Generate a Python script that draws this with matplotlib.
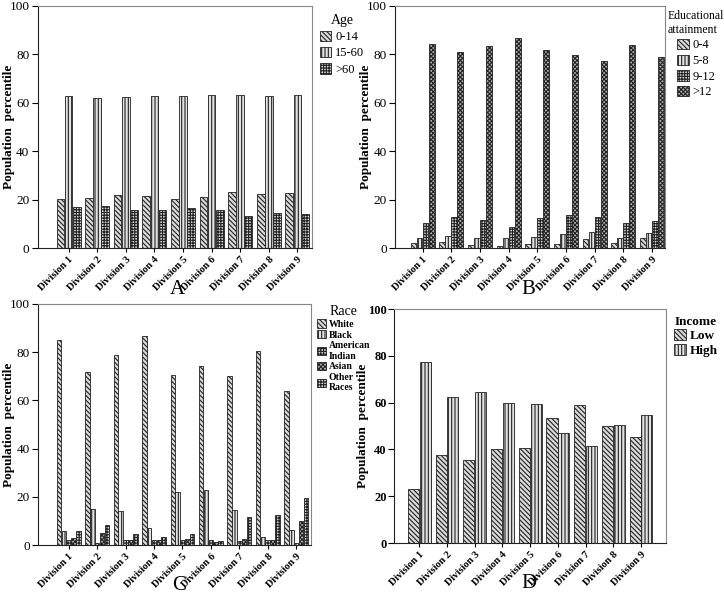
import numpy as np
import matplotlib
matplotlib.use("Agg")
import matplotlib.pyplot as plt

plt.rcParams['font.family'] = ['Liberation Serif', 'DejaVu Serif']
plt.rcParams['hatch.linewidth'] = 0.8
plt.rcParams['hatch.color'] = '#4a4a4a'

divisions = ['Division 1', 'Division 2', 'Division 3', 'Division 4', 'Division 5',
             'Division 6', 'Division 7', 'Division 8', 'Division 9']

# A - age
age_labels = ['0-14', '15-60', '>60']
age_0_14 = [20.1, 20.7, 22.1, 21.4, 20.4, 21.1, 23.3, 22.5, 22.8]
age_15_60 = [62.8, 61.8, 62.5, 62.9, 62.8, 63.2, 63.4, 62.8, 63.3]
age_60 = [17.0, 17.5, 15.9, 15.9, 16.7, 15.9, 13.4, 14.6, 13.9]

# B - educational attainment
edu_labels = ['0-4', '5-8', '9-12', '>12']
edu_0_4 = [1.9, 2.3, 1.4, 1.0, 1.8, 1.5, 3.6, 1.9, 4.3]
edu_5_8 = [4.3, 5.1, 4.3, 4.0, 4.6, 5.7, 6.6, 4.3, 6.1]
edu_9_12 = [10.2, 12.7, 11.6, 8.8, 12.3, 13.8, 13.0, 10.2, 11.2]
edu_12 = [84.1, 80.8, 83.3, 86.6, 81.7, 79.6, 77.2, 83.9, 78.8]

# C - race
race_labels = ['White', 'Black', 'American\nIndian', 'Asian', 'Other\nRaces']
race_white = [84.9, 71.7, 78.7, 86.7, 70.7, 74.2, 70.2, 80.5, 63.7]
race_black = [5.9, 14.9, 14.1, 7.2, 22.0, 22.7, 14.6, 3.2, 6.1]
race_amind = [2.1, 1.0, 2.0, 2.0, 2.0, 2.0, 1.5, 2.0, 1.0]
race_asian = [3.0, 4.8, 2.2, 2.0, 2.4, 1.1, 2.5, 2.0, 9.9]
race_other = [5.9, 8.3, 4.6, 3.5, 4.4, 1.8, 11.7, 12.3, 19.5]

# D - income
inc_labels = ['Low', 'High']
inc_low = [22.9, 37.7, 35.6, 40.1, 40.7, 53.5, 59.0, 49.9, 45.5]
inc_high = [77.4, 62.6, 64.7, 60.0, 59.6, 46.8, 41.3, 50.4, 54.9]

styles = {
    'diag': dict(facecolor='#dadada', hatch='\\' * 7),
    'vert': dict(facecolor='#e2e2e2', hatch='|' * 5),
    'grid': dict(facecolor='#d6d6d6', hatch='+' * 6),
    'check': dict(facecolor='#b0b0b0', hatch='x' * 8),
}


def panel(rect, series, labels, patterns, xlim, letter, letter_xy,
          ylabel_x, leg_anchor, title, title_size=10, title_bold=False, leg_size=9,
          label_bold=False, spacing=0.5, tick_bold=False):
    ax = fig.add_axes(rect)
    x = np.arange(len(divisions))
    n = len(series)
    w = 0.85 / n
    handles = []
    for i, (vals, pat) in enumerate(zip(series, patterns)):
        b = ax.bar(x - 0.425 + w * (i + 0.5), vals, w * 0.94,
                   edgecolor='#222222', linewidth=0.6, **styles[pat])
        handles.append(b)
    ax.set_xlim(*xlim)
    ax.set_ylim(0, 100)
    ax.set_yticks([0, 20, 40, 60, 80, 100])
    ax.tick_params(axis='y', labelsize=9 if tick_bold else 9.5, length=4, width=0.8,
                   pad=1.5 if tick_bold else 2)
    if tick_bold:
        for t in ax.get_yticklabels():
            t.set_fontweight('bold')
    ax.set_xticks(x)
    ax.set_xticklabels(divisions, rotation=45, ha='right', rotation_mode='anchor',
                       fontsize=7.5, fontweight='bold')
    ax.tick_params(axis='x', length=3, width=0.8, pad=2)
    for s in ['top', 'right']:
        ax.spines[s].set_color('#888888')
    for s in ['left', 'bottom']:
        ax.spines[s].set_color('#222222')
    fig.text(ylabel_x, rect[1] + rect[3] / 2, 'Population  percentile', rotation=90,
             ha='center', va='center', fontsize=9.5, fontweight='bold')
    fig.text(letter_xy[0], letter_xy[1], letter, ha='center', va='center', fontsize=15)
    fig.legend(handles, labels, loc='upper left', bbox_to_anchor=leg_anchor,
               frameon=False, handlelength=0.9, handleheight=0.9,
               handletextpad=0.3, labelspacing=spacing, borderpad=0,
               borderaxespad=0, title=title, alignment='center',
               prop=dict(size=leg_size, weight='bold' if label_bold else 'normal'),
               title_fontproperties=dict(size=title_size,
                                         weight='bold' if title_bold else 'normal'))
    return ax


fig = plt.figure(figsize=(7.24, 5.95), dpi=100)
W, H = 724.0, 595.0

panel([37.7 / W, 1 - 248 / H, 274 / W, 242 / H],
      [age_0_14, age_15_60, age_60], age_labels, ['diag', 'vert', 'grid'],
      (-1.08, 8.5), 'A', (177 / W, 1 - 290 / H), 9 / W, (320 / W, 1 - 14 / H),
      'Age', spacing=0.3)

panel([395.3 / W, 1 - 248 / H, 270 / W, 242 / H],
      [edu_0_4, edu_5_8, edu_9_12, edu_12], edu_labels,
      ['diag', 'vert', 'grid', 'check'],
      (-0.95, 8.47), 'B', (528 / W, 1 - 290 / H), 366 / W, (668 / W, 1 - 10 / H),
      'Educational\nattainment', title_size=8.5, spacing=0.25)

panel([38 / W, 1 - 545 / H, 272.7 / W, 241 / H],
      [race_white, race_black, race_amind, race_asian, race_other], race_labels,
      ['diag', 'vert', 'grid', 'check', 'grid'],
      (-1.08, 8.51), 'C', (179 / W, 1 - 586 / H), 9 / W, (317 / W, 1 - 305 / H),
      'Race', leg_size=7, label_bold=True, spacing=0.15)

panel([394.3 / W, 1 - 543 / H, 271.7 / W, 234 / H],
      [inc_low, inc_high], inc_labels, ['diag', 'vert'],
      (-0.9, 8.9), 'D', (529 / W, 1 - 584 / H), 363 / W, (674 / W, 1 - 316 / H),
      'Income', title_size=9.5, title_bold=True, leg_size=9.5, label_bold=True,
      spacing=0.1, tick_bold=True)

fig.savefig('out.png', dpi=100)
